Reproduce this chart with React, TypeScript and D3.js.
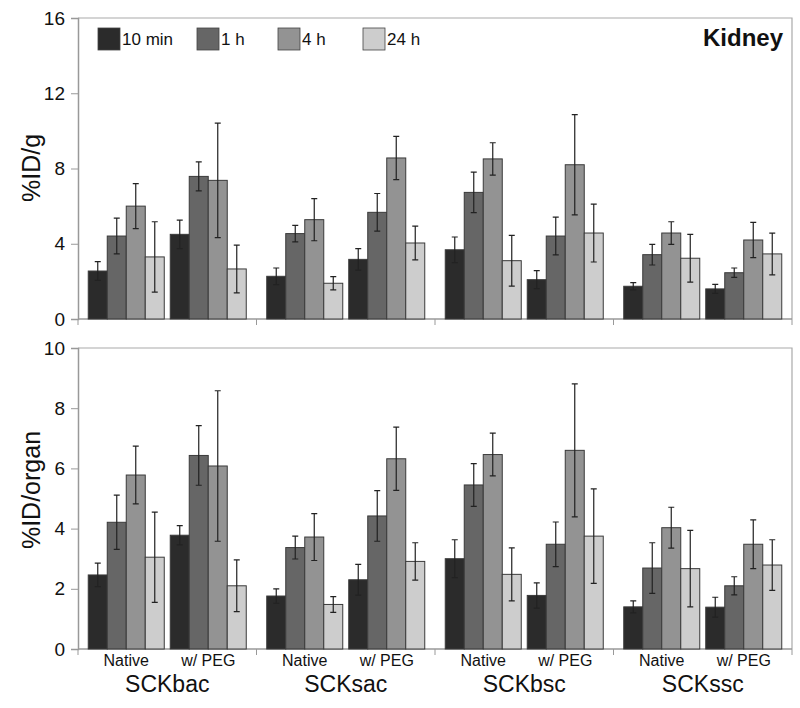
import * as d3 from "d3";
import { useEffect, useRef } from "react";

const times = ["10 min", "1 h", "4 h", "24 h"];
const constructs = ["SCKbac", "SCKsac", "SCKbsc", "SCKssc"];
const forms = ["Native", "w/ PEG"];

// rows: construct x form (Native, w/ PEG), columns: times
const gramMean = [
  [2.55, 4.41, 6.0, 3.3],
  [4.5, 7.58, 7.37, 2.66],
  [2.27, 4.54, 5.28, 1.9],
  [3.17, 5.67, 8.56, 4.04],
  [3.68, 6.73, 8.51, 3.1],
  [2.09, 4.41, 8.2, 4.57],
  [1.74, 3.42, 4.57, 3.23],
  [1.6, 2.46, 4.2, 3.46],
];
const gramErr = [
  [0.5, 0.95, 1.2, 1.87],
  [0.76, 0.77, 3.04, 1.27],
  [0.44, 0.44, 1.12, 0.35],
  [0.57, 1.0, 1.15, 0.9],
  [0.68, 1.08, 0.86, 1.35],
  [0.48, 1.0, 2.66, 1.54],
  [0.19, 0.55, 0.6, 1.27],
  [0.24, 0.25, 0.94, 1.11],
];
const organMean = [
  [2.46, 4.21, 5.78, 3.05],
  [3.78, 6.43, 6.08, 2.1],
  [1.76, 3.37, 3.72, 1.48],
  [2.3, 4.42, 6.32, 2.91],
  [3.0, 5.45, 6.46, 2.48],
  [1.78, 3.48, 6.6, 3.75],
  [1.4, 2.69, 4.03, 2.67],
  [1.39, 2.1, 3.48, 2.79],
];
const organErr = [
  [0.39, 0.9, 0.96, 1.5],
  [0.32, 0.99, 2.5, 0.86],
  [0.24, 0.38, 0.78, 0.26],
  [0.51, 0.84, 1.05, 0.62],
  [0.63, 0.71, 0.71, 0.88],
  [0.42, 0.74, 2.21, 1.57],
  [0.2, 0.84, 0.68, 1.27],
  [0.33, 0.3, 0.81, 0.84],
];
const gramTicks = [0, 4, 8, 12, 16];
const organTicks = [0, 2, 4, 6, 8, 10];

const colors = ["#2b2b2b", "#666666", "#939393", "#cdcdcd"];
const font = "Arial, 'Liberation Sans', sans-serif";

const App = () => {
  const svgRef = useRef<SVGSVGElement>(null);

  const renderSVG = () => {
    const dims = { width: 800, height: 708, left: 78, right: 792 };

    svgRef.current!.innerHTML = "";
    const svg = d3
      .select(svgRef.current)
      .attr("width", dims.width)
      .attr("height", dims.height)
      .attr("viewBox", [0, 0, dims.width, dims.height]);

    svg.append("rect").attr("width", dims.width).attr("height", dims.height).attr("fill", "white");

    const xGroup = d3.scaleBand().domain(constructs).range([dims.left, dims.right]);
    const xForm = d3
      .scaleBand()
      .domain(forms)
      .range([0, xGroup.bandwidth()])
      .paddingInner(0.073)
      .paddingOuter(0.125);
    const xTime = d3.scaleBand().domain(times).range([0, xForm.bandwidth()]);

    const panels = [
      { top: 18, bottom: 319, max: 16, ticks: gramTicks, mean: gramMean, err: gramErr, title: "%ID/g", titleY: 168 },
      { top: 348, bottom: 649, max: 10, ticks: organTicks, mean: organMean, err: organErr, title: "%ID/organ", titleY: 490 },
    ];

    panels.forEach((p) => {
      const y = d3.scaleLinear([0, p.max], [p.bottom, p.top]);
      const g = svg.append("g");

      // frame (top + right)
      g.append("path")
        .attr("d", `M${dims.left},${p.top}H${dims.right}V${p.bottom}`)
        .attr("fill", "none")
        .attr("stroke", "#aaaaaa")
        .attr("stroke-width", 1.2);

      // y axis
      g.append("g")
        .attr("transform", `translate(${dims.left},0)`)
        .call(d3.axisLeft(y).tickValues(p.ticks).tickSize(7).tickPadding(6))
        .call((a) => {
          a.select("path.domain").attr("stroke", "#999999").attr("stroke-width", 1.5);
          a.selectAll(".tick line").attr("stroke", "#999999");
          a.selectAll(".tick text")
            .attr("font-size", 19)
            .attr("font-family", font)
            .attr("fill", "#111");
        });

      // x baseline + group ticks
      g.append("line")
        .attr("x1", dims.left)
        .attr("x2", dims.right)
        .attr("y1", p.bottom)
        .attr("y2", p.bottom)
        .attr("stroke", "#999999")
        .attr("stroke-width", 1.5);
      g.selectAll(".gtick")
        .data([...constructs.map((c) => xGroup(c)!), dims.right])
        .enter()
        .append("line")
        .attr("x1", (d) => d)
        .attr("x2", (d) => d)
        .attr("y1", p.bottom)
        .attr("y2", p.bottom + 6)
        .attr("stroke", "#999999");

      g.append("text")
        .attr("transform", `translate(31,${p.titleY}) rotate(-90)`)
        .attr("text-anchor", "middle")
        .attr("dominant-baseline", "central")
        .attr("font-size", 25)
        .attr("font-family", font)
        .attr("fill", "#111")
        .text(p.title);

      // bars
      const rows = constructs.flatMap((c, ci) =>
        forms.flatMap((f, fi) =>
          times.map((t, ti) => ({
            x: xGroup(c)! + xForm(f)! + xTime(t)!,
            v: p.mean[ci * 2 + fi][ti],
            e: p.err[ci * 2 + fi][ti],
            ti,
          }))
        )
      );
      const w = xTime.bandwidth();
      g.selectAll(".bar")
        .data(rows)
        .enter()
        .append("g")
        .call((b) => {
          b.append("rect")
            .attr("x", (d) => d.x)
            .attr("y", (d) => y(d.v))
            .attr("width", w)
            .attr("height", (d) => y(0) - y(d.v))
            .attr("fill", (d) => colors[d.ti])
            .attr("stroke", "#3a3a3a")
            .attr("stroke-width", 1);
          b.append("path")
            .attr("d", (d) => {
              const cx = d.x + w / 2;
              const y1 = y(d.v + d.e);
              const y2 = y(d.v - d.e);
              return `M${cx},${y1}V${y2}M${cx - 3},${y1}H${cx + 3}M${cx - 3},${y2}H${cx + 3}`;
            })
            .attr("fill", "none")
            .attr("stroke", "#222")
            .attr("stroke-width", 1.2);
        });
    });

    // bottom labels
    const labels = svg.append("g").attr("font-family", font).attr("fill", "#111").attr("text-anchor", "middle");
    constructs.forEach((c) => {
      forms.forEach((f) => {
        labels
          .append("text")
          .attr("x", xGroup(c)! + xForm(f)! + xForm.bandwidth() / 2)
          .attr("y", 666)
          .attr("font-size", 16)
          .text(f);
      });
      labels
        .append("text")
        .attr("x", xGroup(c)! + xGroup.bandwidth() / 2)
        .attr("y", 692)
        .attr("font-size", 23)
        .text(c);
    });

    // legend
    const legendX = [98, 197, 278, 363];
    const legend = svg.append("g");
    times.forEach((t, i) => {
      legend
        .append("rect")
        .attr("x", legendX[i])
        .attr("y", 28)
        .attr("width", 22)
        .attr("height", 22)
        .attr("fill", colors[i])
        .attr("stroke", "#444")
        .attr("stroke-width", 0.8);
      legend
        .append("text")
        .attr("x", legendX[i] + 24)
        .attr("y", 45)
        .attr("font-size", 17)
        .attr("font-family", font)
        .attr("fill", "#111")
        .text(t);
    });

    svg
      .append("text")
      .attr("x", 783)
      .attr("y", 46)
      .attr("text-anchor", "end")
      .attr("font-size", 24)
      .attr("font-weight", "bold")
      .attr("font-family", font)
      .attr("fill", "#111")
      .text("Kidney");
  };

  useEffect(() => {
    renderSVG();
  });

  return <svg ref={svgRef} style={{ position: "absolute", left: 0, top: 0 }} />;
};

export default App;
